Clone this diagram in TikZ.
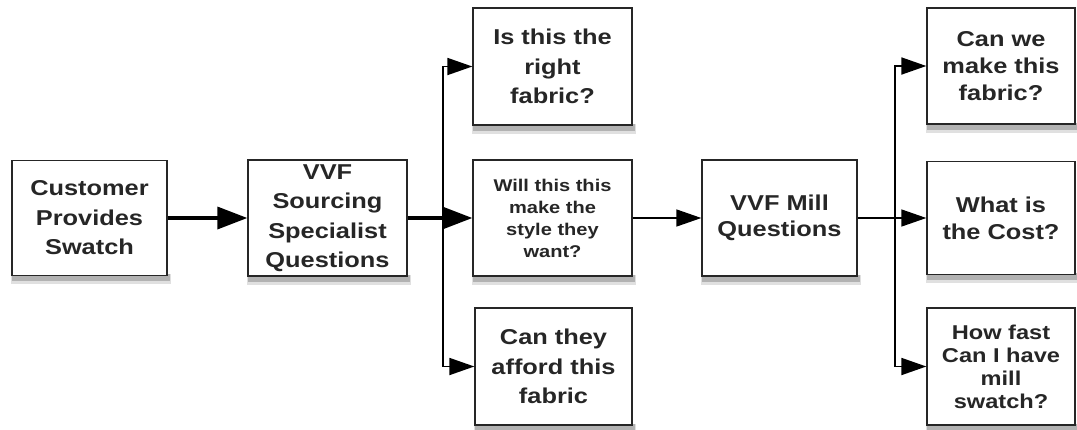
\documentclass[tikz,border=0pt]{standalone}
\usepackage{fontspec}
\setmainfont{Liberation Sans}[FakeStretch=1.18]
\usetikzlibrary{arrows.meta,backgrounds,calc}
\definecolor{txt}{HTML}{262626}
\tikzset{
  qbox/.style={draw=black!85, line width=1.3pt, fill=white, inner sep=0pt, align=center,
    text=txt},
  big/.style={font=\fontsize{21.5}{29.5}\selectfont\bfseries},
  mid/.style={font=\fontsize{21.5}{27}\selectfont\bfseries},
  mill/.style={font=\fontsize{21.5}{25.5}\selectfont\bfseries},
  tight/.style={font=\fontsize{20}{23}\selectfont\bfseries},
  small/.style={font=\fontsize{17}{22}\selectfont\bfseries},
  fl/.style={line width=1.4pt, -{Triangle[length=25pt,width=17pt]}},
  bus/.style={line width=1.8pt, -{Triangle[length=25pt,width=17pt]}},
  thick fl/.style={line width=3.5pt, -{Triangle[length=30pt,width=22pt]}},
}
\newcommand{\boxshadow}[1]{%
  \fill[black!12] ($(#1.south west)+(0,-2)$) rectangle ($(#1.south east)+(3,8)$);
  \fill[black!30] ($(#1.south west)+(1,-2)$) rectangle ($(#1.south east)+(2,5)$);
}
\begin{document}
\begin{tikzpicture}[x=1pt,y=-1pt]
\useasboundingbox (0,0) rectangle (1077,429);
\node[qbox,big,minimum width=155pt,minimum height=115pt] (cust) at (89.5,218) {Customer\\Provides\\Swatch};
\node[qbox,big,minimum width=159pt,minimum height=116pt] (src) at (327.5,218) {VVF\\Sourcing\\Specialist\\Questions};
\node[qbox,big,minimum width=159pt,minimum height=117pt] (q1) at (552.5,66.5) {Is this the\\right\\fabric?};
\node[qbox,small,minimum width=159pt,minimum height=116pt] (q2) at (552.5,218) {Will this this\\make the\\style they\\want?};
\node[qbox,big,minimum width=157pt,minimum height=117pt] (q3) at (553.5,366.5) {Can they\\afford this\\fabric};
\node[qbox,mill,minimum width=155pt,minimum height=116pt] (mill) at (779.5,218) {VVF Mill\\Questions};
\node[qbox,mid,minimum width=148pt,minimum height=116pt] (m1) at (1001,66) {Can we\\make this\\fabric?};
\node[qbox,mid,minimum width=148pt,minimum height=113pt] (m2) at (1001,218) {What is\\the Cost?};
\node[qbox,tight,minimum width=148pt,minimum height=117pt] (m3) at (1001,366.5) {How fast\\Can I have\\mill\\swatch?};
\begin{scope}[on background layer]
\foreach \nm in {cust,src,q1,q2,q3,mill,m1,m2,m3} {\boxshadow{\nm}}
\end{scope}
\coordinate (busA) at (443,218);
\coordinate (busB) at (895,218);
\draw[thick fl] (cust.east) -- (src.west);
\draw[thick fl] (src.east) -- (q2.west);
\draw[bus] (busA) |- (q1.west);
\draw[bus] (busA) |- (q3.west);
\draw[fl] (q2.east) -- (mill.west);
\draw[fl] (mill.east) -- (m2.west);
\draw[bus] (busB) |- (m1.west);
\draw[bus] (busB) |- (m3.west);
\end{tikzpicture}
\end{document}
